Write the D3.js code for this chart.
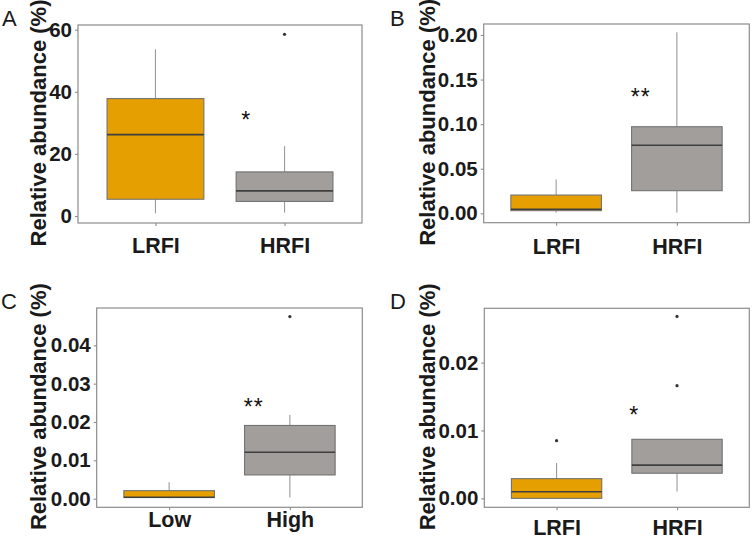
<!DOCTYPE html>
<html>
<head>
<meta charset="utf-8">
<script src="https://cdn.jsdelivr.net/npm/d3@7"></script>
<style>
  html, body { margin: 0; padding: 0; background: #fff; }
  svg { display: block; font-family: "Liberation Sans", Arial, sans-serif; }
</style>
</head>
<body>
<svg id="chart" width="752" height="540"></svg>
<script>
// ---- data ----
const panelLabels = ["A", "B", "C", "D"];
const categoriesRFI = ["LRFI", "HRFI"];
const categoriesLowHigh = ["Low", "High"];
const yTitle = "Relative abundance (%)";

// box stats: [lower whisker, Q1, median, Q3, upper whisker] per category
const boxA = [[0.9, 5.4, 26.2, 37.8, 53.7], [1.1, 4.7, 8.1, 14.2, 22.5]];
const boxB = [[0.001, 0.003, 0.0045, 0.0205, 0.038], [0.001, 0.0254, 0.0763, 0.0971, 0.203]];
const boxC = [[0.0001, 0.0003, 0.0004, 0.0021, 0.0043], [0.0003, 0.0062, 0.0121, 0.0191, 0.0218]];
const boxD = [[0.0, 0.0, 0.00098, 0.0029, 0.0052], [0.001, 0.0037, 0.0049, 0.0087, 0.0087]];

// outliers per category
const outliersA = [[], [58.5]];
const outliersB = [[], []];
const outliersC = [[], [0.0475]];
const outliersD = [[0.0085], [0.0166, 0.0268]];

// y ticks
const ticksA = [0, 20, 40, 60];
const ticksB = [0.00, 0.05, 0.10, 0.15, 0.20];
const ticksC = [0.00, 0.01, 0.02, 0.03, 0.04];
const ticksD = [0.00, 0.01, 0.02];
const tickFmtA = "d";
const tickFmtB = ".2f";
const tickFmtC = ".2f";
const tickFmtD = ".2f";

// y domains
const domainA = [-2.25, 61.5];
const domainB = [-0.0105, 0.2123];
const domainC = [-0.00224, 0.04973];
const domainD = [-0.00132, 0.0280];

// significance annotations: [text, x position (category units), y value]
const sigA = ["*", 1.70, 32.5];
const sigB = ["**", 1.70, 0.136];
const sigC = ["**", 1.70, 0.0252];
const sigD = ["*", 1.64, 0.0130];

const groupColors = ["#E69F00", "#A29E9C"];

// ---- layout ----
const layouts = [
  { left: 78, top: 25, right: 362, bottom: 223, labelX: 2, labelY: 26, titleX: 45.5, xLabDy: 30 },
  { left: 483.7, top: 24, right: 749.3, bottom: 222.7, labelX: 390, labelY: 25.5, titleX: 435, xLabDy: 31 },
  { left: 96.7, top: 308, right: 362.3, bottom: 507.3, labelX: 1, labelY: 309, titleX: 45.5, xLabDy: 20 },
  { left: 484.3, top: 308.3, right: 749.3, bottom: 507.3, labelX: 390, labelY: 308.5, titleX: 435, xLabDy: 27.5 }
];

const panels = [
  { cats: categoriesRFI, box: boxA, out: outliersA, ticks: ticksA, fmt: tickFmtA, domain: domainA, sig: sigA },
  { cats: categoriesRFI, box: boxB, out: outliersB, ticks: ticksB, fmt: tickFmtB, domain: domainB, sig: sigB },
  { cats: categoriesLowHigh, box: boxC, out: outliersC, ticks: ticksC, fmt: tickFmtC, domain: domainC, sig: sigC },
  { cats: categoriesRFI, box: boxD, out: outliersD, ticks: ticksD, fmt: tickFmtD, domain: domainD, sig: sigD }
];

const svg = d3.select("#chart");

panels.forEach((p, i) => {
  const L = layouts[i];
  const g = svg.append("g");

  const x = d3.scaleLinear().domain([0.4, 2.6]).range([L.left, L.right]);
  const xCat = d3.scalePoint().domain(p.cats).range([L.left, L.right]).padding(0.6);
  const y = d3.scaleLinear().domain(p.domain).range([L.bottom, L.top]);
  const halfW = (x(1.375) - x(1));

  // frame
  g.append("rect")
    .attr("x", L.left).attr("y", L.top)
    .attr("width", L.right - L.left).attr("height", L.bottom - L.top)
    .attr("fill", "none").attr("stroke", "#8c8c8c").attr("stroke-width", 1.2);

  // y axis
  const yAxis = g.append("g")
    .attr("transform", `translate(${L.left},0)`)
    .call(d3.axisLeft(y).tickValues(p.ticks).tickFormat(d3.format(p.fmt)).tickSize(3).tickPadding(3));
  yAxis.select(".domain").remove();
  yAxis.selectAll(".tick line").attr("stroke", "#8c8c8c").attr("stroke-width", 1.1);
  yAxis.selectAll(".tick text")
    .attr("fill", "#1a1a1a").attr("font-size", 20.5).attr("font-weight", "bold")
    .attr("font-family", "Liberation Sans, Arial, sans-serif");

  // x axis
  const xAxis = g.append("g")
    .attr("transform", `translate(0,${L.bottom})`)
    .call(d3.axisBottom(xCat).tickSize(3).tickPadding(3));
  xAxis.select(".domain").remove();
  xAxis.selectAll(".tick line").attr("stroke", "#8c8c8c").attr("stroke-width", 1.1);
  xAxis.selectAll(".tick text")
    .attr("dy", null).attr("y", L.xLabDy)
    .attr("fill", "#1a1a1a").attr("font-size", 21.5).attr("font-weight", "bold")
    .attr("font-family", "Liberation Sans, Arial, sans-serif");

  // boxes
  p.box.forEach((s, k) => {
    const cx = xCat(p.cats[k]);
    const [lo, q1, med, q3, hi] = s;
    g.append("line").attr("x1", cx).attr("x2", cx).attr("y1", y(q3)).attr("y2", y(hi))
      .attr("stroke", "#9a9a9a").attr("stroke-width", 1.1);
    g.append("line").attr("x1", cx).attr("x2", cx).attr("y1", y(q1)).attr("y2", y(lo))
      .attr("stroke", "#9a9a9a").attr("stroke-width", 1.1);
    g.append("rect")
      .attr("x", cx - halfW).attr("y", y(q3))
      .attr("width", 2 * halfW).attr("height", Math.max(0.5, y(q1) - y(q3)))
      .attr("fill", groupColors[k]).attr("stroke", "#727272").attr("stroke-width", 1.1);
    g.append("line").attr("x1", cx - halfW).attr("x2", cx + halfW).attr("y1", y(med)).attr("y2", y(med))
      .attr("stroke", "#3f3f3f").attr("stroke-width", 1.6);
    p.out[k].forEach(v => {
      g.append("circle").attr("cx", cx).attr("cy", y(v)).attr("r", 1.6).attr("fill", "#333");
    });
  });

  // significance
  g.append("text")
    .attr("x", x(p.sig[1])).attr("y", y(p.sig[2]) + 12.6)
    .attr("text-anchor", "middle").attr("font-size", 23).attr("fill", "#111")
    .attr("letter-spacing", p.sig[0].length > 1 ? "1px" : null)
    .text(p.sig[0]);

  // y title
  const cy = (L.top + L.bottom) / 2 - 1;
  g.append("text")
    .attr("transform", `translate(${L.titleX},${cy}) rotate(-90)`)
    .attr("text-anchor", "middle").attr("font-size", 22).attr("font-weight", "bold").attr("fill", "#1a1a1a")
    .text(yTitle);

  // panel label
  g.append("text")
    .attr("x", L.labelX).attr("y", L.labelY)
    .attr("font-size", 22).attr("fill", "#1a1a1a")
    .text(panelLabels[i]);
});
</script>
</body>
</html>
